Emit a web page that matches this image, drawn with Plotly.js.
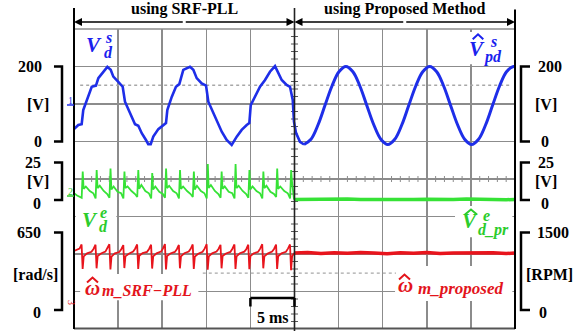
<!DOCTYPE html>
<html><head><meta charset="utf-8">
<script src="https://cdn.plot.ly/plotly-3.0.1.min.js"></script>
<style>html,body{margin:0;padding:0;background:#fff;} #chart{width:586px;height:331px;}</style>
</head><body><div id="chart"></div>
<script>
// ---------- DATA (time in ms, 5 ms / division) ----------
// Channel 1: V_d^s [V] with SRF-PLL (left) and proposed method (right)
const blueLeftT = [0,0.49,0.87,1.05,2.01,2.49,2.76,3.32,3.78,4.16,4.46,5.02,5.52,5.78,6.35,6.92,7.29,7.68,8.16,8.42,8.70,8.99,9.56,10.12,10.43,10.58,11.08,11.56,11.94,12.39,13.15,13.53,13.91,14.48,14.97,15.23,15.79,16.36,16.75,17.31,17.88,18.45,19.01,19.58,19.88,20.04,20.52,21.09,21.66,22.22,22.79,23.16,23.55,24.11,24.49,24.80,24.94,25.17,25.62,26.08];
const blueLeftV = [33,44,46,84,146,149,169,186,199,191,173,159,146,106,75,46,42,22,4,-7,-7,13,33,44,49,84,119,146,153,191,199,191,169,155,149,106,75,44,26,4,-9,13,31,44,49,97,119,146,164,186,201,182,164,151,146,111,53,23,-1,-8];
const blueRightT = [26.08,26.87,27.66,28.45,29.25,30.04,30.83,31.62,32.41,33.20,34.00,34.79,35.58,36.37,37.16,37.95,38.75,39.54,40.33,41.12,41.91,42.70,43.50,44.29,45.08,45.87,46.66,47.45,48.25,49.04,49.83,50.0];
const blueRightV = [-8,6,44,96,148,186,200,186,148,96,44,6,-8,6,44,96,148,186,200,186,148,96,44,6,-8,6,44,96,148,186,200,199];

// Channel 2: V_d^e [V]
const greenLeftT = [0,0.35,
 0.87,0.99,1.09,1.34,1.79,2.19,
 2.45,2.57,2.67,2.92,3.37,3.77,
 4.02,4.14,4.24,4.49,4.94,5.34,
 5.60,5.72,5.82,6.07,6.52,6.92,
 7.17,7.29,7.39,7.64,8.09,8.49,
 8.75,8.87,8.97,9.22,9.67,10.07,
 10.32,10.44,10.54,10.79,11.24,11.64,
 11.90,12.02,12.12,12.37,12.82,13.22,
 13.47,13.59,13.69,13.94,14.39,14.79,
 15.05,15.17,15.27,15.52,15.97,16.37,
 16.62,16.74,16.84,17.09,17.54,17.94,
 18.20,18.32,18.42,18.67,19.12,19.52,
 19.77,19.89,19.99,20.24,20.69,21.09,
 21.35,21.47,21.57,21.82,22.27,22.67,
 22.92,23.04,23.14,23.39,23.84,24.24,
 24.50,24.62,24.72,24.85,24.95];
const greenLeftV = [4.5,3,
 1.5,19,7.5,9,6,4.5,
 1,20,8,9.5,6,4,
 1.5,21,7,9,5.5,4.5,
 1,19,8,9,6,4,
 2,20,7.5,10,6,4.5,
 1,18,7,9,5.5,4,
 1.5,21,8,9.5,6,4.5,
 1,20,7.5,9,6,4,
 2,19,7,9.5,6,4.5,
 1,24,8,10,6,4,
 1.5,19,7.5,9,5.5,4.5,
 1,24,8,9.5,6,4,
 1.5,20,7,9,6,4.5,
 1,19,8,9.5,5.5,4,
 2,21,7.5,9,6,4.5,
 1,20,12,4,0.3];
const greenRightT = [24.95,26.5,28,29.5,31,32.5,34,35.5,37,38.5,40,41.5,43,44.5,46,47.5,49,50];
const greenRightV = [0.3,0.5,0.2,0.4,0.6,0.3,0.2,0.5,0.4,0.3,0.5,0.2,0.4,0.6,0.3,0.5,0.2,0.4];

// Channel 3: estimated speed [rad/s]
const redLeftT = [0,0.3,
 0.63,0.86,0.98,1.10,1.48,1.98,
 2.21,2.44,2.56,2.68,3.06,3.56,
 3.78,4.01,4.13,4.25,4.63,5.13,
 5.36,5.59,5.71,5.83,6.21,6.71,
 6.93,7.16,7.28,7.40,7.78,8.28,
 8.51,8.74,8.86,8.98,9.36,9.86,
 10.08,10.31,10.43,10.55,10.93,11.43,
 11.66,11.89,12.01,12.13,12.51,13.01,
 13.23,13.46,13.58,13.70,14.08,14.58,
 14.81,15.04,15.16,15.28,15.66,16.16,
 16.38,16.61,16.73,16.85,17.23,17.73,
 17.96,18.19,18.31,18.43,18.81,19.31,
 19.53,19.76,19.88,20.00,20.38,20.88,
 21.11,21.34,21.46,21.58,21.96,22.46,
 22.68,22.91,23.03,23.15,23.53,24.03,
 24.26,24.49,24.61,24.73,24.95];
const redLeftV = [495,505,
 515,550,345,450,475,488,
 512,548,350,452,474,490,
 515,552,340,448,476,486,
 510,545,352,450,472,490,
 514,550,345,455,478,488,
 512,548,348,450,475,490,
 515,553,340,452,474,487,
 510,546,350,450,476,490,
 513,550,345,448,472,488,
 515,552,338,450,475,490,
 512,547,350,453,474,487,
 514,550,345,450,476,490,
 510,548,342,452,475,488,
 515,552,350,450,473,490,
 512,549,345,451,476,488,
 515,550,335,450,478];
const redRightT = [24.95,26.5,28,29.5,31,32.5,34,35.5,37,38.5,40,41.5,43,44.5,46,47.5,49,50];
const redRightV = [478,482,474,480,476,483,478,473,480,477,482,475,479,481,476,480,474,478];

// ---------- STYLE ----------
const SERIF = 'Liberation Serif, Times New Roman, serif';
const BLUE = '#1e2ee8', GREEN = '#36e236', RED = '#e8141c';
const BLUE_L = '#1a22ee', GREEN_L = '#2ccc2c', RED_L = '#e3141b';
const GRID = '#8c8c8c';

const traces = [
  {x: blueLeftT, y: blueLeftV, yaxis: 'y', mode: 'lines', line: {color: BLUE, width: 2.6}},
  {x: blueRightT, y: blueRightV, yaxis: 'y', mode: 'lines', line: {color: BLUE, width: 3, shape: 'spline'}},
  {x: greenLeftT, y: greenLeftV, yaxis: 'y2', mode: 'lines', line: {color: GREEN, width: 1.8}},
  {x: greenRightT, y: greenRightV, yaxis: 'y2', mode: 'lines', line: {color: GREEN, width: 3.5}},
  {x: redLeftT, y: redLeftV, yaxis: 'y3', mode: 'lines', line: {color: RED, width: 1.8}},
  {x: redRightT, y: redRightV, yaxis: 'y3', mode: 'lines', line: {color: RED, width: 3.5}}
];

const shapes = [];
function ln(o) { shapes.push(Object.assign({type: 'line'}, o)); }
// white label backgrounds (above grid, below traces) - main x/y axes units
function box(x0, x1, y0, y1) {
  shapes.push({type: 'rect', xref: 'x', yref: 'y', x0, x1, y0, y1, fillcolor: '#fff', line: {width: 0}, layer: 'between'});
}
box(44.3, 49.7, 206, 292);
box(0.2, 4.8, -247, -169);
box(43.2, 49.7, -255, -172);
box(0.7, 14.1, -423, -353);
box(36.4, 49.7, -425, -332);
box(20.1, 24.8, -497, -420);
// graticule minor ticks on centre lines
for (let t = 1; t < 50; t++) {
  if (t % 5) ln({xref: 'x', yref: 'y', x0: t, x1: t, y0: -108, y1: -92, line: {color: GRID, width: 1}, layer: 'between'});
}
for (let v = -480; v < 300; v += 20) {
  if (v % 100) ln({xref: 'x', yref: 'y', x0: 24.6, x1: 25.4, y0: v, y1: v, line: {color: '#555', width: 1}, layer: 'between'});
}
// cursor dotted lines
ln({xref: 'x', yref: 'y', x0: 0.7, x1: 49.4, y0: 150, y1: 150, line: {color: '#a8a8a8', width: 1.3, dash: 'dot'}, layer: 'between'});
ln({xref: 'x', yref: 'y', x0: 14.6, x1: 36.5, y0: -351, y1: -351, line: {color: '#a8a8a8', width: 1.3, dash: 'dot'}, layer: 'between'});
// frame
ln({xref: 'paper', yref: 'paper', x0: 0, x1: 1, y0: 1, y1: 1, line: {color: GRID, width: 1.5}});
ln({xref: 'paper', yref: 'paper', x0: 0, x1: 1, y0: 0.002, y1: 0.002, line: {color: '#555', width: 2}});
ln({xref: 'paper', yref: 'paper', x0: 0, x1: 0, y0: 0, y1: 1.07, line: {color: '#000', width: 2}});
ln({xref: 'paper', yref: 'paper', x0: 1, x1: 1, y0: 0, y1: 1.065, line: {color: '#000', width: 2}});
ln({xref: 'x', yref: 'paper', x0: 25, x1: 25, y0: -0.01, y1: 1.07, line: {color: '#222', width: 1.6}});
// brackets
function bracket(yref, v0, v1, left) {
  const xv = left ? -0.0272 : 1.0136, xe = left ? -0.0454 : 1.034;
  shapes.push({type: 'path', xref: 'paper', yref, path: `M ${xe},${v1} L ${xv},${v1} L ${xv},${v0} L ${xe},${v0}`, line: {color: '#000', width: 2.5}});
}
[true, false].forEach(l => { bracket('y', 0, 200, l); bracket('y2', 0, 25, l); bracket('y3', 0, 650, l); });
// 5 ms scale bar
ln({xref: 'x', yref: 'paper', x0: 20, x1: 25, y0: 0.1033, y1: 0.1033, line: {color: '#000', width: 2.5}});
ln({xref: 'x', yref: 'paper', x0: 20, x1: 20, y0: 0.1033, y1: 0.075, line: {color: '#000', width: 2.5}});
ln({xref: 'x', yref: 'paper', x0: 25, x1: 25, y0: 0.1033, y1: 0.075, line: {color: '#000', width: 2.5}});
// channel marker underlines
ln({xref: 'paper', yref: 'paper', x0: -0.0159, x1: 0, y0: 0.7467, y1: 0.7467, line: {color: BLUE, width: 1.5}});
ln({xref: 'paper', yref: 'paper', x0: -0.0159, x1: 0, y0: 0.4433, y1: 0.4433, line: {color: GREEN_L, width: 1.5}});
// hat accents of the label symbols (chevrons)
function hat(x0, xm, x1, yb, yt, color) {
  shapes.push({type: 'path', xref: 'paper', yref: 'paper', path: `M ${x0},${yb} L ${xm},${yt} L ${x1},${yb}`, line: {color, width: 2}});
}
hat(0.9041, 0.9161, 0.9281, 0.9657, 0.9823, BLUE_L);
hat(0.8866, 0.9002, 0.9138, 0.3817, 0.3983, GREEN_L);
hat(0.0295, 0.0420, 0.0544, 0.155, 0.1717, RED_L);
hat(0.7370, 0.7494, 0.7619, 0.165, 0.1817, RED_L);

const ann = [];
function txt(text, x, y, o) {
  ann.push(Object.assign({text, x, y, xref: 'paper', yref: 'paper', showarrow: false, xanchor: 'center', yanchor: 'middle',
    font: {family: SERIF, size: 16, color: '#000'}}, o || {}));
}
function b(s) { return '<b>' + s + '</b>'; }
function bi(s) { return '<b><i>' + s + '</i></b>'; }
// headers
txt(b('using SRF-PLL'), 12.5, 1.067, {xref: 'x'});
txt(b('using Proposed Method'), 37.5, 1.067, {xref: 'x'});
// arrows
[[0, 12.5], [25, 12.5], [25, 37.5], [50, 37.5]].forEach(([h, t]) => {
  ann.push({text: '', x: h, y: 1.0233, xref: 'x', yref: 'paper', ax: t, axref: 'x', ay: 0, ayref: 'pixel',
    showarrow: true, arrowhead: 2, arrowsize: 1, arrowwidth: 1.6, arrowcolor: '#000', standoff: 0, startstandoff: 0});
});
// axis labels left
txt(b('200'), -0.068, 200, {yref: 'y', xanchor: 'right'});
txt(b('[V]'), -0.0816, 100, {yref: 'y'});
txt(b('0'), -0.0816, 0, {yref: 'y'});
txt(b('25'), -0.070, 25, {yref: 'y2', xanchor: 'right'});
txt(b('[V]'), -0.0816, 12.5, {yref: 'y2'});
txt(b('0'), -0.084, 0, {yref: 'y2', yshift: -3});
txt(b('650'), -0.070, 650, {yref: 'y3', xanchor: 'right'});
txt(b('[rad/s]'), -0.0884, 300, {yref: 'y3'});
txt(b('0'), -0.084, 0, {yref: 'y3', yshift: -2});
// axis labels right
txt(b('200'), 1.0476, 200, {yref: 'y', xanchor: 'left'});
txt(b('[V]'), 1.0703, 100, {yref: 'y'});
txt(b('0'), 1.068, 0, {yref: 'y'});
txt(b('25'), 1.0476, 25, {yref: 'y2', xanchor: 'left'});
txt(b('[V]'), 1.0703, 12.5, {yref: 'y2'});
txt(b('0'), 1.068, 0, {yref: 'y2', yshift: -3});
txt(b('1500'), 1.0454, 650, {yref: 'y3', xanchor: 'left'});
txt(b('[RPM]'), 1.078, 300, {yref: 'y3'});
txt(b('0'), 1.0635, 0, {yref: 'y3', yshift: -2});
// scale bar text
txt(b('5 ms'), 22.6, 0.04, {xref: 'x'});
// channel markers
txt('1', -0.009, 0.7633, {font: {family: SERIF, size: 10, color: BLUE}});
txt('2', -0.009, 0.46, {font: {family: SERIF, size: 10, color: GREEN_L}});
txt('3', -0.007, 0.0867, {font: {family: SERIF, size: 10, color: RED}, textangle: 90});
// trace labels
function tl(text, x, y, size, color) { txt(bi(text), x, y, {font: {family: SERIF, size, color}}); }
tl('V', 0.0454, 0.9467, 21, BLUE_L); tl('s', 0.0771, 0.9733, 16, BLUE_L); tl('d', 0.0771, 0.92, 16, BLUE_L);
tl('V', 0.9138, 0.9333, 21, BLUE_L); tl('s', 0.951, 0.96, 16, BLUE_L); tl('pd', 0.9501, 0.905, 16, BLUE_L);
tl('V', 0.0363, 0.3633, 21, GREEN_L); tl('e', 0.0669, 0.39, 16, GREEN_L); tl('d', 0.0669, 0.34, 16, GREEN_L);
tl('V', 0.899, 0.36, 21, GREEN_L); tl('e', 0.9365, 0.38, 16, GREEN_L); tl('d_pr', 0.951, 0.33, 16, GREEN_L);
tl('ω', 0.042, 0.1367, 21, RED_L); tl('m_SRF−PLL', 0.1662, 0.1283, 16, RED_L);
tl('ω', 0.7517, 0.1467, 21, RED_L); tl('m_proposed', 0.8776, 0.135, 17, RED_L);

const layout = {
  width: 586, height: 331, autosize: false,
  margin: {l: 74, r: 71, t: 29, b: 2, pad: 0},
  paper_bgcolor: '#fff', plot_bgcolor: '#fff', showlegend: false,
  xaxis: {range: [0, 50], tick0: 0, dtick: 5, showgrid: true, gridcolor: GRID, gridwidth: 1.5, showticklabels: false, ticks: '', zeroline: false, showline: false, fixedrange: true},
  yaxis: {range: [-500, 300], tick0: 0, dtick: 100, showgrid: true, gridcolor: GRID, gridwidth: 1.5, showticklabels: false, ticks: '', zeroline: false, showline: false, fixedrange: true},
  yaxis2: {range: [-86, 114], overlaying: 'y', visible: false, fixedrange: true},
  yaxis3: {range: [-159, 2357], overlaying: 'y', visible: false, fixedrange: true},
  shapes, annotations: ann
};
Plotly.newPlot('chart', traces, layout, {displayModeBar: false, staticPlot: true});
</script></body></html>
